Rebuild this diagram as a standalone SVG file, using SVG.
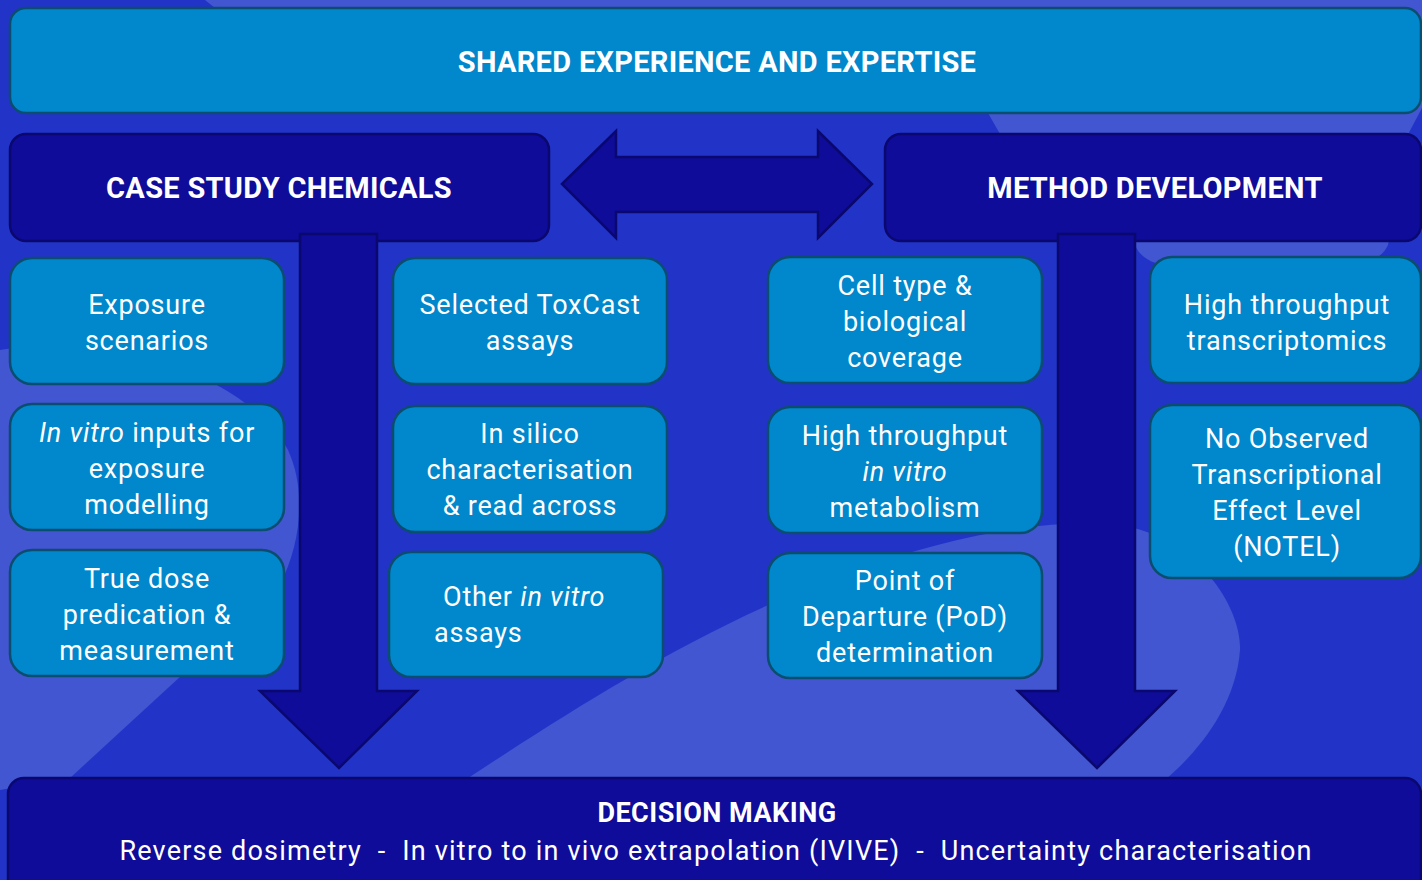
<svg xmlns="http://www.w3.org/2000/svg" width="1422" height="880" viewBox="0 0 1422 880">
  <style>
    .bg { fill: #2234c8; }
    .swoosh { fill: #4256d2; }
    .band { fill: #0087cc; stroke: #0b4d6e; stroke-width: 2.5; }
    .navy { fill: #0f0c99; stroke: #0a086e; stroke-width: 2.5; }
    .box { fill: #0087cc; stroke: #0b4d6e; stroke-width: 2.5; }
    .arrow { fill: #0f0c99; stroke: #0a086e; stroke-width: 2.5; stroke-linejoin: miter; }
    .title { font-family: Roboto, "Liberation Sans", sans-serif; font-weight: 700; font-size: 29px; fill: #ffffff; text-anchor: middle; letter-spacing: 0.3px; }
    .title-sm { font-family: Roboto, "Liberation Sans", sans-serif; font-weight: 700; font-size: 27px; fill: #ffffff; text-anchor: middle; letter-spacing: 0.5px; }
    .txt { font-family: Roboto, "Liberation Sans", sans-serif; font-size: 27px; fill: #ffffff; text-anchor: middle; letter-spacing: 0.8px; }
    .sub { font-family: Roboto, "Liberation Sans", sans-serif; font-size: 27px; fill: #ffffff; text-anchor: middle; letter-spacing: 1.2px; }
    .start { text-anchor: start; }
    .it { font-style: italic; }
  </style>

  <!-- background -->
  <rect class="bg" x="0" y="0" width="1422" height="880"/>
  <path class="swoosh" d="M205,0 H1422 V108 L1405,140 L1388,245 C1380,262 1360,266 1340,266 L1175,266 C1155,266 1140,258 1135,245 L1000,134 L988,113 C700,60 400,20 215,8 Z"/>
  <path class="swoosh" d="M0,350 C120,330 250,380 288,450 C306,490 302,540 280,585 L70,778 L0,790 Z"/>
  <path class="swoosh" d="M465,780 C560,718 700,625 850,572 C950,537 1040,518 1120,525 C1200,538 1242,610 1240,650 C1236,705 1200,750 1165,780 Z"/>

  <!-- header bands -->
  <g id="shared">
    <rect class="band" x="10" y="8" width="1411" height="105" rx="16"/>
    <text class="title" x="717" y="72">SHARED EXPERIENCE AND EXPERTISE</text>
  </g>
  <g id="case-study">
    <rect class="navy" x="10" y="134" width="539" height="107" rx="16"/>
    <text class="title" x="279" y="198">CASE STUDY CHEMICALS</text>
  </g>
  <g id="method-dev">
    <rect class="navy" x="885" y="134" width="536" height="107" rx="16"/>
    <text class="title" x="1155" y="198">METHOD DEVELOPMENT</text>
  </g>

  <!-- connectors -->
  <g id="connectors">
    <path class="arrow" d="M562,184 L616,131 L616,157 L818,157 L818,131 L872,184 L818,238 L818,212 L616,212 L616,238 Z"/>
    <path class="arrow" d="M300,234 L377,234 L377,691 L417,691 L339,768 L260,691 L300,691 Z"/>
    <path class="arrow" d="M1058,234 L1135,234 L1135,691 L1175,691 L1097,768 L1018,691 L1058,691 Z"/>
  </g>

  <!-- case study column 1 -->
  <g id="exposure-scenarios">
    <rect class="box" x="10" y="258" width="274" height="126" rx="22"/>
    <text class="txt" x="147" y="314">Exposure</text>
    <text class="txt" x="147" y="350">scenarios</text>
  </g>
  <g id="in-vitro-inputs">
    <rect class="box" x="10" y="404" width="274" height="126" rx="22"/>
    <text class="txt" x="147" y="442"><tspan class="it">In vitro</tspan> inputs for</text>
    <text class="txt" x="147" y="478">exposure</text>
    <text class="txt" x="147" y="514">modelling</text>
  </g>
  <g id="true-dose">
    <rect class="box" x="10" y="550" width="274" height="126" rx="22"/>
    <text class="txt" x="147" y="588">True dose</text>
    <text class="txt" x="147" y="624">predication &amp;</text>
    <text class="txt" x="147" y="660">measurement</text>
  </g>

  <!-- case study column 2 -->
  <g id="toxcast">
    <rect class="box" x="393" y="258" width="274" height="126" rx="22"/>
    <text class="txt" x="530" y="314">Selected ToxCast</text>
    <text class="txt" x="530" y="350">assays</text>
  </g>
  <g id="in-silico">
    <rect class="box" x="393" y="406" width="274" height="126" rx="22"/>
    <text class="txt" x="530" y="443">In silico</text>
    <text class="txt" x="530" y="479">characterisation</text>
    <text class="txt" x="530" y="515">&amp; read across</text>
  </g>
  <g id="other-assays">
    <rect class="box" x="389" y="552" width="274" height="125" rx="22"/>
    <text class="txt start" x="443" y="606">Other <tspan class="it">in vitro</tspan></text>
    <text class="txt start" x="434" y="642">assays</text>
  </g>

  <!-- method development column 3 -->
  <g id="cell-type">
    <rect class="box" x="768" y="257" width="274" height="126" rx="22"/>
    <text class="txt" x="905" y="295">Cell type &amp;</text>
    <text class="txt" x="905" y="331">biological</text>
    <text class="txt" x="905" y="367">coverage</text>
  </g>
  <g id="ht-metabolism">
    <rect class="box" x="768" y="407" width="274" height="126" rx="22"/>
    <text class="txt" x="905" y="445">High throughput</text>
    <text class="txt it" x="905" y="481">in vitro</text>
    <text class="txt" x="905" y="517">metabolism</text>
  </g>
  <g id="pod">
    <rect class="box" x="768" y="553" width="274" height="125" rx="22"/>
    <text class="txt" x="905" y="590">Point of</text>
    <text class="txt" x="905" y="626">Departure (PoD)</text>
    <text class="txt" x="905" y="662">determination</text>
  </g>

  <!-- method development column 4 -->
  <g id="ht-transcriptomics">
    <rect class="box" x="1150" y="257" width="271" height="126" rx="22"/>
    <text class="txt" x="1287" y="314">High throughput</text>
    <text class="txt" x="1287" y="350">transcriptomics</text>
  </g>
  <g id="notel">
    <rect class="box" x="1150" y="405" width="271" height="173" rx="22"/>
    <text class="txt" x="1287" y="448">No Observed</text>
    <text class="txt" x="1287" y="484">Transcriptional</text>
    <text class="txt" x="1287" y="520">Effect Level</text>
    <text class="txt" x="1287" y="556">(NOTEL)</text>
  </g>

  <!-- decision making band -->
  <g id="decision">
    <rect class="navy" x="8" y="778" width="1413" height="120" rx="16"/>
    <text class="title-sm" x="717" y="822">DECISION MAKING</text>
    <text class="sub" x="716" y="860" xml:space="preserve">Reverse dosimetry  -  In vitro to in vivo extrapolation (IVIVE)  -  Uncertainty characterisation</text>
  </g>
</svg>
